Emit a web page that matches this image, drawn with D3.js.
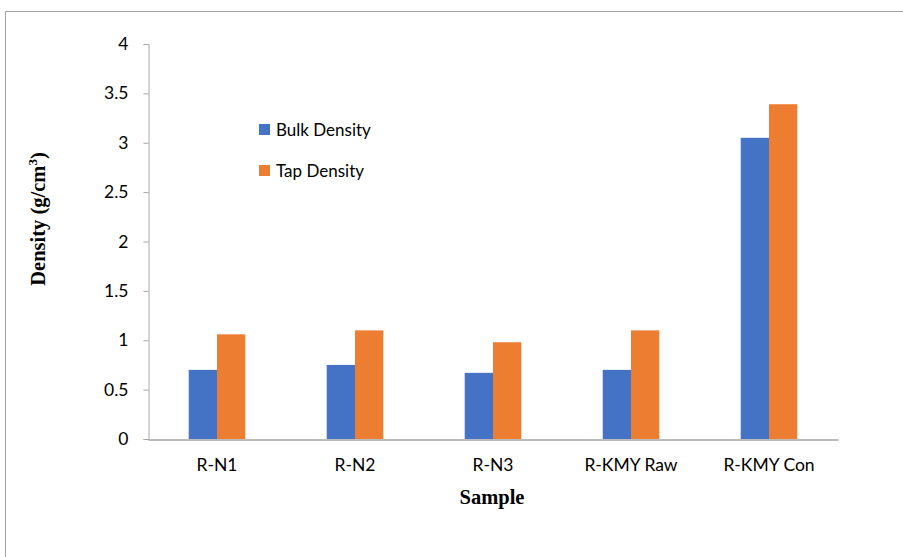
<!DOCTYPE html>
<html>
<head>
<meta charset="utf-8">
<script src="https://cdn.jsdelivr.net/npm/d3@7"></script>
<style>
  html, body { margin: 0; padding: 0; background: #fff; }
  svg { display: block; }
</style>
</head>
<body>
<svg id="chart" width="903" height="557"></svg>
<script>
// Sample names along the x axis
const samples = ["R-N1", "R-N2", "R-N3", "R-KMY Raw", "R-KMY Con"];
// Density values (g/cm3) per sample
const bulkDensity = [0.70, 0.75, 0.67, 0.70, 3.05];
const tapDensity  = [1.06, 1.10, 0.98, 1.10, 3.39];
const seriesNames = ["Bulk Density", "Tap Density"];
const seriesColors = ["#4472C4", "#ED7D31"];
const yTicks = [0, 0.5, 1, 1.5, 2, 2.5, 3, 3.5, 4];

const svg = d3.select("#chart");
const labelFont = "Lato, 'Open Sans', sans-serif";
const titleFont = "'Liberation Serif', 'Times New Roman', serif";

// Outer frame (top and left edges visible)
svg.append("path")
  .attr("d", "M5.5,557 L5.5,11.5 L903,11.5")
  .attr("fill", "none").attr("stroke", "#a6a6a6").attr("stroke-width", 1);

const plot = { left: 148, right: 838, top: 44, bottom: 439 };

const x = d3.scaleBand().domain(samples).range([plot.left, plot.right]).paddingInner(0).paddingOuter(0);
const y = d3.scaleLinear().domain([0, 4]).range([plot.bottom, plot.top]);
const groupWidth = x.bandwidth() * 0.41;
const xs = d3.scaleBand().domain(seriesNames).range([0, groupWidth]);

const rows = samples.map((s, i) => ({ sample: s, values: [bulkDensity[i], tapDensity[i]] }));

// Bars
const groups = svg.append("g").selectAll("g").data(rows).join("g")
  .attr("transform", d => `translate(${x(d.sample) + (x.bandwidth() - groupWidth) / 2},0)`);
groups.selectAll("rect")
  .data(d => d.values.map((v, k) => ({ name: seriesNames[k], value: v, k })))
  .join("rect")
  .attr("x", d => xs(d.name))
  .attr("width", xs.bandwidth())
  .attr("y", d => y(d.value))
  .attr("height", d => y(0) - y(d.value))
  .attr("fill", d => seriesColors[d.k]);

// Y axis
const yAxis = svg.append("g")
  .attr("transform", `translate(${plot.left + 0.5},0)`)
  .call(d3.axisLeft(y).tickValues(yTicks).tickSize(5).tickPadding(15)
    .tickFormat(d => String(d)));
yAxis.select(".domain").attr("stroke", "#a6a6a6");
yAxis.selectAll(".tick line").attr("stroke", "#a6a6a6");
yAxis.selectAll(".tick text")
  .attr("font-family", labelFont).attr("font-size", 17.5).attr("fill", "#000");

// X axis
const xAxis = svg.append("g")
  .attr("transform", `translate(0,${plot.bottom + 0.5})`)
  .call(d3.axisBottom(x).tickSize(0).tickPadding(19));
xAxis.select(".domain").attr("stroke", "#a6a6a6").attr("stroke-width", 1.5);
xAxis.selectAll(".tick text")
  .attr("font-family", labelFont).attr("font-size", 17.5).attr("fill", "#000");

// Axis titles
svg.append("text")
  .attr("x", 492).attr("y", 504)
  .attr("text-anchor", "middle")
  .attr("font-family", titleFont).attr("font-weight", "bold").attr("font-size", 20.5)
  .text("Sample");

const yTitle = svg.append("text")
  .attr("transform", "translate(45,219) rotate(-90)")
  .attr("text-anchor", "middle")
  .attr("font-family", titleFont).attr("font-weight", "bold").attr("font-size", 20.5);
yTitle.append("tspan").text("Density (g/cm");
yTitle.append("tspan").attr("font-size", 13).attr("dy", -8).text("3");
yTitle.append("tspan").attr("dy", 8).text(")");

// Legend
const legend = svg.append("g").selectAll("g").data(seriesNames).join("g")
  .attr("transform", (d, i) => `translate(259,${124 + i * 41})`);
legend.append("rect").attr("width", 11).attr("height", 11)
  .attr("fill", (d, i) => seriesColors[i]);
legend.append("text")
  .attr("x", 17).attr("y", 11.5)
  .attr("font-family", labelFont).attr("font-size", 17).attr("fill", "#000")
  .text(d => d);
</script>
</body>
</html>
